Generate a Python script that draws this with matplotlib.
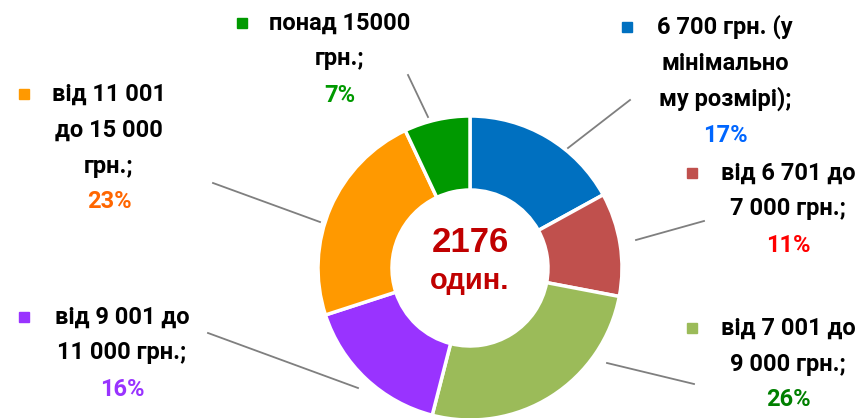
import matplotlib.pyplot as plt

# data
categories = [
    "6 700 грн. (у\nмінімально\nму розмірі);",
    "від 6 701 до\n7 000 грн.;",
    "від 7 001 до\n9 000 грн.;",
    "від 9 001 до\n11 000 грн.;",
    "від 11 001\nдо 15 000\nгрн.;",
    "понад 15000\nгрн.;",
]
shares = [17, 11, 26, 16, 23, 7]
total_units = 2176
units_label = "один."

wedge_colors = ["#0070C0", "#C0504D", "#9BBB59", "#9933FF", "#FF9900", "#009900"]
pct_colors = ["#0066FF", "#FF0000", "#008000", "#9933FF", "#FF6600", "#009900"]

# layout in pixels from top-left: (text centre x, first line y, marker x)
label_pos = [(725, 27, 627), (788, 173, 692), (788, 328, 692),
             (122, 317, 24), (109, 94, 24), (340, 23, 242)]
leader_lines = [((568, 148), (630, 100)), ((636, 240), (704, 221)),
                ((607, 363), (694, 384)), ((208, 333), (358, 388)),
                ((213, 183), (320, 222)), ((408, 75), (428, 117))]
line_step = 36

plt.rcParams["font.family"] = ["Roboto", "DejaVu Sans"]

W, H = 866, 418
fig = plt.figure(figsize=(W / 100, H / 100), dpi=100)
ax = fig.add_axes([0, 0, 1, 1])

ax.pie(
    shares,
    colors=wedge_colors,
    startangle=90,
    counterclock=False,
    center=(470, H - 268),
    radius=152,
    wedgeprops=dict(width=74, edgecolor="white", linewidth=2.5),
)
ax.set_xlim(0, W)
ax.set_ylim(0, H)
ax.set_aspect("equal")
ax.axis("off")

for (p0, p1) in leader_lines:
    ax.plot([p0[0], p1[0]], [H - p0[1], H - p1[1]], color="#7F7F7F", lw=1.3)

for cat, share, col, pcol, (cx, y0, mx) in zip(categories, shares, wedge_colors,
                                                pct_colors, label_pos):
    lines = cat.split("\n")
    for i, line in enumerate(lines):
        ax.text(cx, H - (y0 + i * line_step), line, ha="center", va="center",
                fontsize=17, fontweight="bold", color="black")
    ax.text(cx, H - (y0 + len(lines) * line_step), f"{share}%", ha="center",
            va="center", fontsize=17, fontweight="bold", color=pcol)
    ax.plot([mx], [H - y0], marker="s", markersize=7.5, color=col, lw=0)

ax.text(470, H - 243, str(total_units), ha="center", va="center", fontsize=25,
        fontweight="bold", color="#C00000", family=["Liberation Sans", "DejaVu Sans"])
ax.text(470, H - 281, units_label, ha="center", va="center", fontsize=21,
        fontweight="bold", color="#C00000", family=["Liberation Sans", "DejaVu Sans"])

fig.savefig("out.png", dpi=100)
